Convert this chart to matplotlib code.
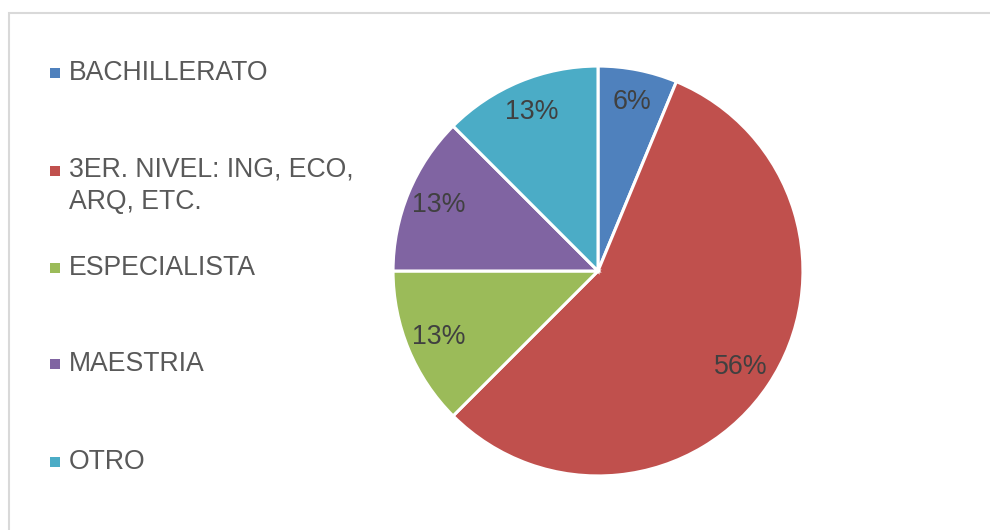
import math
import matplotlib
matplotlib.use("Agg")
import matplotlib.pyplot as plt
from matplotlib.patches import Rectangle

categories = ["BACHILLERATO", "3ER. NIVEL: ING, ECO,\nARQ, ETC.", "ESPECIALISTA", "MAESTRIA", "OTRO"]
counts = [1, 9, 2, 2, 2]
colors = ["#4F81BD", "#C0504D", "#9BBB59", "#8064A2", "#4BACC6"]

plt.rcParams["font.family"] = ["Liberation Sans", "DejaVu Sans"]

W, H = 990, 530
fig = plt.figure(figsize=(W / 100, H / 100), dpi=100)
fig.patch.set_facecolor("white")

# chart area frame
fig.patches.append(Rectangle((8.5 / W, -0.1), 1.2, (H - 12.5) / H + 0.1,
                             transform=fig.transFigure, fill=False,
                             edgecolor="#D9D9D9", linewidth=1.5))

cx, cy, r = 598, 271, 207
ax = fig.add_axes([(cx - r) / W, (H - cy - r) / H, 2 * r / W, 2 * r / H])
ax.pie(
    counts, colors=colors, startangle=90, counterclock=False, radius=1,
    autopct=lambda p: f"{math.floor(p + 0.5)}%", pctdistance=0.84,
    wedgeprops=dict(edgecolor="white", linewidth=2.2),
    textprops=dict(fontsize=19.3, color="#404040"))
ax.set_xlim(-1.01, 1.01)
ax.set_ylim(-1.01, 1.01)
ax.set_aspect("equal")
ax.axis("off")

# legend on the left
fs = 19.2
entry_y = [73, 171, 268, 364, 462]
for lab, col, y in zip(categories, colors, entry_y):
    fig.patches.append(Rectangle((50 / W, (H - y - 5) / H), 10 / W, 10 / H,
                                 transform=fig.transFigure, facecolor=col,
                                 edgecolor="none"))
    if "\n" in lab:
        fig.text(69 / W, (H - y + 14) / H, lab, fontsize=fs, color="#595959",
                 ha="left", va="top", linespacing=1.32)
    else:
        fig.text(69 / W, (H - y) / H, lab, fontsize=fs, color="#595959",
                 ha="left", va="center")

fig.savefig("out.png", dpi=100, facecolor="white")
